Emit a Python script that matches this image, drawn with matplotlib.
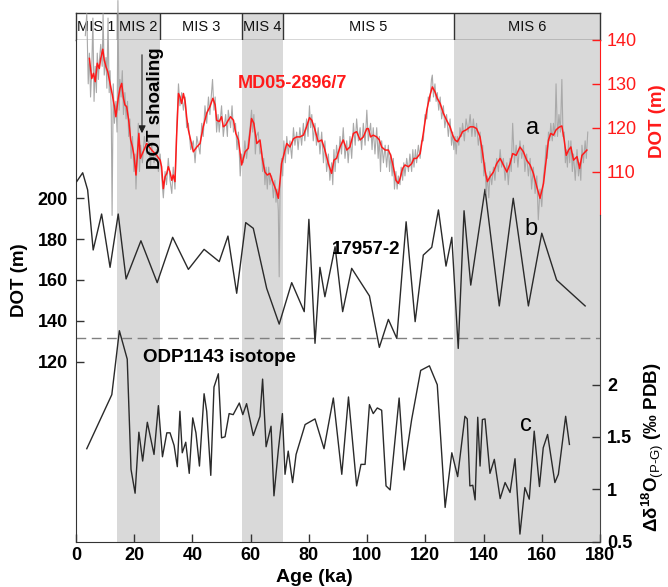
import matplotlib
matplotlib.use('Agg')
import matplotlib.pyplot as plt

plt.rcParams['font.family'] = ['Liberation Sans', 'DejaVu Sans']
plt.rcParams['mathtext.fontset'] = 'custom'
plt.rcParams['mathtext.rm'] = 'Liberation Sans'
plt.rcParams['mathtext.bf'] = 'Liberation Sans:bold'
plt.rcParams['mathtext.it'] = 'Liberation Sans:italic'

# ---------------- data ----------------
mis_names = ['MIS 1', 'MIS 2', 'MIS 3', 'MIS 4', 'MIS 5', 'MIS 6']
mis_start = [0, 14, 29, 57, 71, 130]
mis_end = [14, 29, 57, 71, 130, 180]
mis_glacial = [False, True, False, True, False, True]

# a: MD05-2896/7 smoothed DOT (m)
red_age = [4.6, 5.4, 6.0, 6.6, 7.3, 8.0, 8.5, 9.2, 9.7, 10.3,
           10.9, 11.7, 12.5, 13.2, 13.7, 14.5, 15.1, 15.7, 16.3, 16.8,
           17.4, 18.1, 18.8, 19.4, 19.9, 20.6, 21.2, 21.6, 22.1, 24.3,
           26.0, 27.7, 28.9, 29.4, 30.0, 30.6, 31.2, 31.7, 32.3, 32.9,
           33.4, 34.0, 34.6, 35.2, 35.7, 36.3, 36.9, 37.5, 38.0, 38.6,
           39.4, 40.3, 41.5, 42.6, 43.7, 44.9, 46.0, 47.0, 47.8, 48.3,
           49.2, 50.0, 50.6, 51.4, 52.3, 53.1, 54.1, 54.9, 55.8, 56.9,
           58.1, 59.2, 60.3, 61.1, 62.1, 63.2, 64.1, 64.9, 65.7, 66.6,
           67.8, 68.7, 69.5, 70.1, 70.6, 71.5, 72.4, 73.5, 74.7, 75.8,
           76.9, 78.1, 79.2, 80.2, 81.0, 82.1, 83.2, 84.4, 85.5, 86.7,
           87.8, 88.6, 89.5, 90.7, 91.8, 93.0, 94.1, 95.3, 96.4, 97.6,
           98.7, 99.9, 100.4, 101.2, 102.1, 103.3, 104.2, 105.0, 106.2, 107.3,
           108.1, 109.0, 109.9, 110.7, 111.3, 112.2, 113.0, 114.2, 115.3, 116.1,
           117.0, 118.2, 119.3, 120.5, 121.6, 122.4, 123.3, 124.1, 125.1, 126.2,
           127.3, 128.5, 129.4, 130.2, 131.0, 131.9, 132.8, 134.0, 135.4, 136.5,
           137.6, 138.8, 139.7, 140.5, 141.3, 142.2, 143.4, 144.5, 145.7, 146.8,
           148.0, 149.1, 150.0, 151.2, 152.5, 153.7, 154.8, 156.0, 157.1, 158.3,
           159.4, 160.6, 161.5, 162.3, 163.1, 164.0, 164.9, 165.9, 166.9, 167.7,
           168.4, 169.2, 170.0, 170.9, 172.1, 173.0, 173.8, 174.9, 175.5]
red_dot = [135.8, 131.2, 132.4, 130.5, 134.7, 133.5, 135.8, 137.9, 135.4, 133.9,
           132.8, 130.1, 127.4, 124.8, 122.5, 126.7, 129.0, 130.1, 126.7, 125.2,
           124.8, 121.7, 117.2, 115.6, 113.7, 109.2, 114.9, 118.7, 113.0, 116.4,
           114.9, 113.7, 112.6, 111.1, 106.1, 108.8, 109.6, 111.1, 109.9, 108.0,
           109.2, 107.7, 118.7, 127.8, 127.1, 125.5, 127.8, 125.9, 122.5, 119.5,
           117.2, 114.5, 115.6, 116.4, 120.2, 123.3, 124.8, 126.7, 125.2, 121.7,
           121.4, 122.5, 120.2, 120.6, 121.7, 122.5, 121.7, 118.7, 117.2, 111.5,
           114.5, 115.3, 122.1, 121.0, 116.4, 117.2, 112.6, 109.9, 109.2, 109.6,
           107.3, 105.8, 103.9, 108.0, 111.8, 114.1, 116.4, 115.6, 117.5, 117.9,
           117.9, 118.3, 120.2, 122.3, 121.7, 119.5, 116.8, 117.2, 114.9, 111.8,
           109.6, 112.6, 113.0, 115.6, 117.2, 114.9, 115.6, 118.7, 119.1, 117.2,
           117.9, 119.8, 119.8, 117.9, 118.3, 117.9, 117.2, 115.6, 114.9, 114.9,
           113.7, 111.1, 108.0, 107.3, 108.4, 110.7, 111.5, 111.1, 111.8, 113.0,
           113.0, 114.1, 118.7, 124.0, 127.4, 129.3, 128.2, 126.7, 125.5, 123.3,
           121.7, 120.2, 118.3, 117.2, 116.8, 117.9, 119.1, 119.5, 120.2, 120.2,
           119.8, 117.9, 114.1, 110.3, 107.7, 108.8, 109.9, 111.8, 113.0, 111.5,
           109.9, 111.8, 114.1, 113.7, 115.6, 114.5, 112.6, 111.5, 109.6, 106.5,
           103.9, 107.3, 112.6, 117.2, 118.7, 118.3, 119.5, 120.1, 120.4, 117.2,
           113.7, 114.9, 115.6, 112.6, 113.4, 110.7, 113.7, 114.5, 114.9]

# a: MD05-2896/7 raw DOT (m) (age, value)
gray_pts = [(3.2, 141), (3.7, 146), (4.2, 130), (4.6, 137), (5.0, 127), (5.4, 133), (5.8, 145), (6.2, 126), (6.6, 134), (7.0, 128),
            (7.3, 137), (7.7, 131), (8.0, 135), (8.5, 139), (9.0, 134), (9.3, 146), (9.7, 132), (10.3, 136), (10.6, 129), (11.0, 145),
            (11.4, 128), (11.7, 133), (12.1, 124), (12.4, 100), (12.8, 130), (13.2, 121), (13.7, 126), (14.1, 119), (14.4, 149), (14.8, 124),
            (15.1, 131), (15.5, 127), (15.9, 133), (16.3, 123), (16.8, 128), (17.2, 122), (17.7, 126), (18.1, 118), (18.5, 122), (18.9, 113),
            (19.4, 118), (19.9, 110), (20.3, 114), (20.6, 106), (21.0, 113), (21.4, 121), (21.8, 110), (22.2, 116), (22.8, 112), (23.5, 118),
            (24.3, 114), (25.0, 117), (25.6, 111), (26.0, 116), (26.8, 112), (27.7, 115), (28.3, 110), (28.9, 114), (29.4, 109), (30.0, 104),
            (30.6, 110), (31.1, 107), (31.7, 113), (32.3, 108), (32.9, 105), (33.4, 111), (34.0, 106), (34.6, 120), (35.2, 130), (35.7, 125),
            (36.3, 128), (36.9, 124), (37.5, 127), (38.0, 120), (38.6, 121), (39.4, 115), (40.3, 117), (40.9, 112), (41.5, 118), (42.6, 114),
            (43.2, 121), (43.7, 118), (44.3, 125), (44.9, 121), (45.5, 127), (46.0, 123), (46.9, 131), (47.4, 124), (47.8, 127), (48.3, 119),
            (48.8, 123), (49.2, 119), (50.0, 125), (50.6, 118), (51.4, 123), (52.0, 118), (52.3, 124), (53.1, 120), (53.6, 125), (54.1, 119),
            (54.8, 121), (55.3, 115), (55.8, 119), (56.4, 109), (56.9, 114), (57.5, 112), (58.0, 117), (58.6, 113), (59.2, 117), (59.8, 120),
            (60.3, 124), (60.7, 119), (61.1, 123), (61.6, 114), (62.0, 118), (62.6, 119), (63.2, 114), (63.7, 115), (64.1, 110), (64.5, 113),
            (64.9, 107), (65.3, 111), (65.7, 106), (66.2, 111), (66.6, 107), (67.2, 109), (67.8, 104), (68.3, 108), (68.7, 103), (69.1, 106),
            (69.5, 101), (69.8, 86), (70.1, 106), (70.6, 113), (71.0, 109), (71.4, 117), (71.9, 112), (72.4, 118), (72.9, 114), (73.5, 117),
            (74.1, 113), (74.7, 120), (75.2, 116), (75.8, 119), (76.3, 115), (76.9, 120), (77.5, 116), (78.1, 121), (78.6, 117), (79.2, 122),
            (79.7, 118), (80.2, 125), (80.6, 120), (81.0, 123), (81.5, 117), (82.1, 121), (82.6, 116), (83.2, 120), (83.8, 114), (84.4, 119),
            (85.0, 112), (85.5, 117), (86.1, 110), (86.7, 114), (87.2, 108), (87.8, 112), (88.2, 107), (88.6, 115), (89.0, 110), (89.5, 116),
            (90.1, 112), (90.7, 118), (91.2, 114), (91.8, 120), (92.4, 113), (93.0, 117), (93.5, 112), (94.1, 118), (94.7, 113), (95.3, 121),
            (95.9, 116), (96.4, 122), (97.0, 117), (97.6, 120), (98.1, 115), (98.7, 121), (99.3, 116), (99.9, 124), (100.4, 117), (101.2, 121),
            (101.7, 115), (102.1, 120), (102.7, 114), (103.3, 120), (103.8, 113), (104.2, 118), (104.6, 110), (105.0, 117), (105.6, 112), (106.2, 116),
            (106.7, 111), (107.3, 116), (107.7, 110), (108.1, 114), (108.6, 109), (109.0, 113), (109.4, 106), (109.9, 110), (110.3, 106), (110.7, 109),
            (111.3, 107), (111.7, 111), (112.2, 108), (112.6, 112), (113.0, 109), (113.6, 113), (114.2, 110), (114.7, 114), (115.3, 110), (115.7, 115),
            (116.1, 111), (116.6, 115), (117.0, 112), (117.6, 116), (118.2, 113), (118.7, 117), (119.3, 117), (119.9, 123), (120.5, 122), (121.0, 127),
            (121.6, 126), (122.1, 131), (122.4, 132), (122.8, 127), (123.3, 130), (123.7, 126), (124.1, 128), (124.6, 124), (125.1, 127), (125.6, 122),
            (126.2, 125), (126.7, 120), (127.3, 123), (127.9, 118), (128.5, 122), (129.0, 116), (129.4, 119), (129.8, 115), (130.2, 118), (130.6, 114),
            (131.0, 118), (131.5, 116), (131.9, 120), (132.4, 118), (132.8, 121), (133.4, 117), (134.0, 122), (134.7, 119), (135.4, 123), (136.0, 118),
            (136.5, 122), (137.1, 118), (137.6, 121), (138.2, 116), (138.8, 119), (139.3, 112), (139.7, 116), (140.1, 109), (140.5, 112), (140.9, 105),
            (141.3, 109), (141.8, 104), (142.2, 110), (142.8, 107), (143.4, 111), (143.9, 108), (144.5, 113), (145.1, 110), (145.7, 115), (146.2, 111),
            (146.8, 113), (147.4, 108), (148.0, 112), (148.5, 107), (149.1, 113), (149.5, 110), (150.0, 121), (150.6, 112), (151.2, 116), (151.8, 111),
            (152.5, 117), (153.1, 113), (153.7, 116), (154.2, 110), (154.8, 114), (155.4, 109), (156.0, 113), (156.5, 106), (157.1, 111), (157.7, 105),
            (158.3, 109), (158.8, 99), (159.4, 106), (160.0, 102), (160.6, 109), (161.1, 112), (161.5, 116), (161.9, 113), (162.3, 119), (162.7, 117),
            (163.1, 121), (163.6, 117), (164.0, 121), (164.5, 118), (164.9, 130), (165.4, 118), (165.9, 123), (166.4, 119), (166.9, 131), (167.3, 118),
            (167.7, 119), (168.1, 112), (168.4, 115), (168.8, 111), (169.2, 117), (169.6, 112), (170.0, 117), (170.5, 110), (170.9, 114), (171.5, 108),
            (172.1, 115), (172.6, 109), (173.0, 112), (173.4, 108), (173.8, 116), (174.3, 112), (174.9, 117), (175.3, 113), (175.8, 119)]

# b: 17957-2 DOT (m)
b_age = [0.2, 2.3, 4.0, 5.9, 8.8, 11.7, 14.5, 17.2, 22.3, 27.9,
         33.2, 38.6, 44.0, 49.2, 52.2, 55.2, 58.3, 60.9, 65.5, 69.8,
         74.1, 78.4, 80.0, 82.1, 83.8, 85.5, 89.0, 91.6, 94.7, 100.8,
         104.2, 107.3, 110.2, 113.4, 116.5, 119.3, 122.2, 124.5, 127.1, 129.1,
         131.3, 133.3, 135.6, 140.5, 145.4, 150.2, 155.4, 160.0, 165.1, 174.9]
b_dot = [208.1, 212.5, 204.1, 174.7, 192.3, 166.2, 192.3, 160.5, 179.2, 158.7,
         180.9, 165.2, 175.0, 169.0, 181.5, 153.5, 188.1, 185.3, 155.9, 138.4,
         158.7, 144.5, 189.7, 129.0, 166.2, 151.8, 176.3, 144.5, 165.7, 152.2,
         127.0, 140.7, 131.4, 188.5, 139.6, 172.2, 176.0, 194.3, 166.8, 180.9,
         126.5, 193.9, 157.5, 204.4, 147.3, 200.0, 147.3, 182.9, 160.0, 147.3]
b_ref_line = 131.7

# c: ODP1143 isotope delta
c_age = [3.7, 12.3, 14.9, 17.6, 18.9, 20.3, 21.6, 22.9, 24.5, 26.8,
         28.3, 29.7, 31.2, 32.3, 33.7, 34.8, 35.7, 36.5, 37.7, 38.9,
         40.1, 41.2, 42.4, 44.0, 44.9, 46.3, 47.4, 48.9, 50.0, 51.2,
         52.6, 54.0, 56.1, 57.3, 58.6, 60.9, 63.2, 64.1, 65.3, 67.0,
         68.0, 69.5, 70.9, 71.8, 72.9, 74.4, 75.6, 78.7, 82.1, 85.2,
         88.4, 91.3, 93.6, 96.4, 97.9, 99.3, 100.8, 102.1, 103.5, 105.0,
         106.5, 107.9, 111.0, 112.7, 115.3, 118.4, 121.4, 124.1, 126.8, 129.1,
         131.1, 133.6, 134.4, 135.3, 136.3, 137.1, 138.0, 138.8, 139.6, 140.5,
         142.2, 143.7, 145.7, 147.4, 149.1, 150.8, 152.5, 154.2, 155.7, 157.4,
         159.2, 160.5, 162.0, 164.5, 165.7, 168.2, 169.5]
c_d18o = [1.388, 1.905, 2.517, 2.245, 1.19, 0.962, 1.546, 1.27, 1.641, 1.333,
          1.8, 1.311, 1.54, 1.54, 1.419, 1.216, 1.746, 1.349, 1.45, 1.152,
          1.683, 1.54, 1.222, 1.914, 1.746, 1.133, 1.978, 2.105, 1.492, 1.502,
          1.724, 1.714, 1.825, 1.714, 1.819, 1.514, 1.698, 2.054, 1.407, 1.603,
          0.937, 1.375, 1.724, 1.143, 1.365, 1.064, 1.333, 1.619, 1.673, 1.388,
          1.873, 1.143, 1.883, 1.032, 1.238, 1.238, 1.81, 1.724, 1.778, 1.756,
          1.032, 0.994, 1.873, 1.184, 1.667, 2.137, 2.181, 2.0, 0.826, 1.349,
          1.121, 1.698, 1.673, 1.032, 1.038, 0.898, 1.689, 1.222, 1.667, 1.673,
          1.152, 1.286, 0.911, 1.064, 0.969, 1.292, 0.571, 1.016, 0.905, 1.556,
          1.026, 1.397, 1.524, 1.064, 1.143, 1.698, 1.429]

x_ticks = [0, 20, 40, 60, 80, 100, 120, 140, 160, 180]
a_ticks = [110, 120, 130, 140]
b_ticks = [120, 140, 160, 180, 200]
c_ticks = [0.5, 1, 1.5, 2]
c_ticklabels = ['0.5', '1', '1.5', '2']

# ---------------- layout ----------------
W, H = 668, 587
fig = plt.figure(figsize=(W / 100, H / 100), dpi=100)


def fx(px):
    return px / W


def fy(py):
    return 1 - py / H


L, R, T, B = 76, 600, 40, 541.5
HT = 13
band = '#d9d9d9'
dark = '#333333'
red = '#ff1a1a'

# header with MIS stages
hdr = fig.add_axes([fx(L), fy(T), (R - L) / W, (T - HT) / H])
hdr.set_xlim(0, 180)
hdr.set_ylim(0, 1)
for s, e, n, g in zip(mis_start, mis_end, mis_names, mis_glacial):
    if g:
        hdr.axvspan(s, e, color=band, lw=0)
    hdr.text((s + e) / 2, 0.48, n, ha='center', va='center', fontsize=10.5, color='#111')
for e in mis_end[:-1]:
    hdr.axvline(e, color=dark, lw=1)
hdr.set_xticks([])
hdr.set_yticks([])
for sp in hdr.spines.values():
    sp.set_color(dark)
    sp.set_linewidth(1)

# main axes (b)
ax = fig.add_axes([fx(L), fy(B), (R - L) / W, (B - T) / H])
ax.set_xlim(0, 180)
ax.set_ylim(31.97, 277.5)
for s, e, g in zip(mis_start, mis_end, mis_glacial):
    if g:
        ax.axvspan(s, e, color=band, lw=0, zorder=0)
ax.axhline(b_ref_line, color='#808080', lw=1, dashes=(7, 4), zorder=1)
ax.plot(b_age, b_dot, color='#2a2a2a', lw=1.0, zorder=3)
ax.set_xticks(x_ticks)
ax.set_yticks(b_ticks)
ax.tick_params(direction='in', length=6, width=1, labelsize=13, color=dark)
ax.tick_params(axis='y', pad=6)
ax.tick_params(axis='x', pad=4)
for lbl in ax.get_xticklabels() + ax.get_yticklabels():
    lbl.set_fontweight('bold')
ax.spines['top'].set_visible(False)
ax.spines['right'].set_visible(False)
ax.spines['left'].set_color(dark)
ax.spines['bottom'].set_color(dark)

# a axis (red)
axa = ax.twinx()
axa.set_ylim(25.63, 140)
axa.plot([p[0] for p in gray_pts], [p[1] for p in gray_pts], color='#a9a9a9', lw=0.8, clip_on=False, zorder=2)
axa.plot(red_age, red_dot, color=red, lw=1.1, zorder=3)
axa.set_yticks(a_ticks)
axa.tick_params(axis='y', direction='in', length=6, width=1, colors=red, labelsize=13, pad=5)
for k in ['left', 'top', 'bottom']:
    axa.spines[k].set_visible(False)
axa.spines['right'].set_color(red)
axa.spines['right'].set_bounds(100, 140)

# c axis
axc = ax.twinx()
axc.set_ylim(0.5, 5.299)
axc.plot(c_age, c_d18o, color='#2a2a2a', lw=1.0, zorder=3)
axc.set_yticks(c_ticks)
axc.set_yticklabels(c_ticklabels, fontweight='bold')
axc.tick_params(axis='y', direction='in', length=6, width=1, labelsize=13, pad=5, color=dark)
for k in ['left', 'top', 'bottom']:
    axc.spines[k].set_visible(False)
axc.spines['right'].set_color('#444444')
axc.spines['right'].set_bounds(0.5, 3.62)

# labels
fig.text(fx(20), fy(280), 'DOT (m)', rotation=90, ha='center', va='center', fontsize=13.5, fontweight='bold')
fig.text(fx(658), fy(121), 'DOT (m)', rotation=90, ha='center', va='center', fontsize=13.5, fontweight='bold', color=red)
fig.text(fx(653), fy(447), r'$\mathbf{\Delta\delta^{18}O}_{\mathrm{(P\text{-}G)}}$ (‰ PDB)', rotation=90,
         ha='center', va='center', fontsize=13.5, fontweight='bold')
fig.text(fx(314), fy(577), 'Age (ka)', ha='center', va='center', fontsize=14, fontweight='bold')

# annotations
fig.text(fx(238), fy(83), 'MD05-2896/7', ha='left', va='center', fontsize=13, fontweight='bold', color=red)
fig.text(fx(156), fy(108), 'DOT shoaling', rotation=90, ha='center', va='center', fontsize=13.5, fontweight='bold')
ax.annotate('', xy=(142, H - 136), xytext=(142, H - 52), xycoords='figure pixels', textcoords='figure pixels',
            arrowprops=dict(arrowstyle='-|>', color='#222222', lw=0.8, mutation_scale=11))
fig.text(fx(533), fy(128), 'a', ha='center', va='center', fontsize=17)
fig.text(fx(531), fy(229), 'b', ha='center', va='center', fontsize=17)
fig.text(fx(526), fy(425), 'c', ha='center', va='center', fontsize=17)
fig.text(fx(366), fy(249), '17957-2', ha='center', va='center', fontsize=13.5, fontweight='bold')
fig.text(fx(219), fy(358), 'ODP1143 isotope', ha='center', va='center', fontsize=13.5, fontweight='bold')

fig.savefig('out.png', dpi=100)
